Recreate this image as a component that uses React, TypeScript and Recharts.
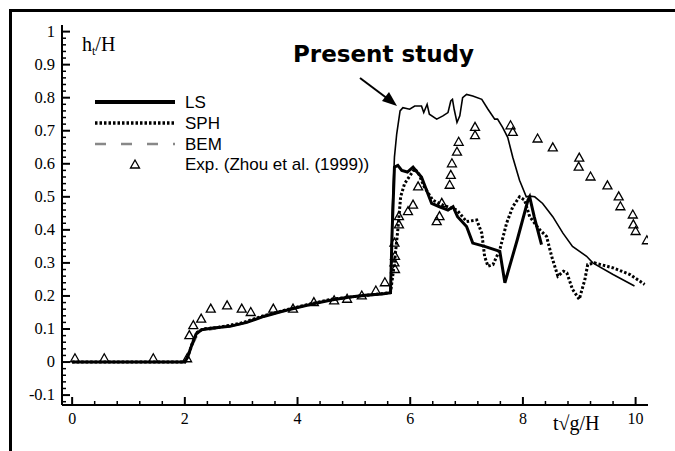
import { ComposedChart, Line, Scatter, XAxis, YAxis, Legend } from 'recharts';

type Pt = { t: number; h: number };
const pts = (a: number[][]): Pt[] => a.map(([t, h]) => ({ t, h }));

// Present study (thin solid)
const PRESENT = pts([
  [0, 0], [1, 0], [2.0, 0], [2.05, 0.015], [2.12, 0.05], [2.2, 0.085], [2.3, 0.098],
  [2.5, 0.103], [2.8, 0.108], [3.1, 0.12], [3.4, 0.138], [3.7, 0.152], [4.0, 0.165],
  [4.3, 0.177], [4.6, 0.188], [4.9, 0.196], [5.2, 0.202], [5.5, 0.206], [5.65, 0.21],
  [5.68, 0.45], [5.72, 0.62], [5.76, 0.69], [5.82, 0.76], [5.87, 0.77], [5.99, 0.765],
  [6.08, 0.775], [6.2, 0.775], [6.24, 0.755], [6.3, 0.78], [6.34, 0.75], [6.47, 0.735],
  [6.58, 0.745], [6.67, 0.755], [6.72, 0.79], [6.75, 0.795], [6.78, 0.765], [6.83, 0.725],
  [6.88, 0.745], [6.93, 0.8], [7.0, 0.81], [7.11, 0.805], [7.27, 0.795], [7.38, 0.765],
  [7.5, 0.735], [7.55, 0.735], [7.64, 0.71], [7.73, 0.68], [7.82, 0.62], [7.94, 0.55],
  [8.06, 0.5], [8.12, 0.502], [8.21, 0.5], [8.35, 0.48], [8.53, 0.44], [8.71, 0.39],
  [8.88, 0.35], [9.13, 0.32], [9.24, 0.3], [9.6, 0.265], [9.98, 0.23],
]);

// LS (thick solid)
const LS = pts([
  [0, 0], [1, 0], [2.0, 0], [2.05, 0.015], [2.12, 0.05], [2.2, 0.085], [2.3, 0.098],
  [2.5, 0.103], [2.8, 0.108], [3.1, 0.12], [3.4, 0.138], [3.7, 0.152], [4.0, 0.165],
  [4.3, 0.177], [4.6, 0.188], [4.9, 0.196], [5.2, 0.202], [5.5, 0.206], [5.65, 0.21],
  [5.68, 0.4], [5.72, 0.59], [5.78, 0.595], [5.85, 0.58], [5.95, 0.575], [6.05, 0.59],
  [6.12, 0.575], [6.2, 0.56], [6.29, 0.52], [6.38, 0.48], [6.52, 0.47], [6.67, 0.46],
  [6.76, 0.47], [6.84, 0.44], [7.0, 0.41], [7.11, 0.36], [7.32, 0.35], [7.59, 0.335],
  [7.68, 0.24], [7.9, 0.37], [8.09, 0.49], [8.12, 0.5], [8.2, 0.44], [8.33, 0.355],
]);

// SPH (dotted)
const SPH = pts([
  [0, 0], [1, 0], [2.0, 0], [2.06, 0.02], [2.14, 0.06], [2.22, 0.09], [2.32, 0.1],
  [2.6, 0.105], [3.0, 0.118], [3.4, 0.14], [3.8, 0.158], [4.2, 0.175], [4.6, 0.19],
  [5.0, 0.198], [5.4, 0.205], [5.65, 0.21], [5.72, 0.3], [5.78, 0.4], [5.83, 0.5],
  [5.9, 0.54], [6.0, 0.565], [6.08, 0.585], [6.15, 0.57], [6.25, 0.53], [6.4, 0.49],
  [6.58, 0.475], [6.83, 0.46], [7.0, 0.425], [7.18, 0.43], [7.27, 0.39], [7.32, 0.32],
  [7.38, 0.29], [7.47, 0.295], [7.59, 0.34], [7.71, 0.42], [7.82, 0.47], [7.94, 0.5],
  [8.03, 0.49], [8.12, 0.44], [8.3, 0.4], [8.42, 0.38], [8.51, 0.32], [8.62, 0.26],
  [8.72, 0.275], [8.78, 0.27], [8.88, 0.22], [9.0, 0.19], [9.1, 0.25], [9.15, 0.295],
  [9.27, 0.3], [9.6, 0.285], [9.9, 0.265], [10.16, 0.235],
]);

// BEM (grey dashed, stops before breaking)
const BEM = pts([
  [0, 0], [1, 0], [2.0, 0], [2.1, 0.04], [2.25, 0.09], [2.5, 0.1], [3.0, 0.115],
  [3.5, 0.145], [4.0, 0.165], [4.5, 0.185], [5.0, 0.197], [5.5, 0.205], [5.65, 0.21],
]);

// Exp. (Zhou et al. 1999)
const EXP = pts([
  [0.05, 0.01], [0.57, 0.01], [1.44, 0.01], [2.04, 0.01], [2.08, 0.08], [2.15, 0.11],
  [2.29, 0.13], [2.46, 0.16], [2.75, 0.17], [3.01, 0.16], [3.17, 0.15], [3.57, 0.16],
  [3.92, 0.16], [4.29, 0.18], [4.65, 0.185], [4.88, 0.19], [5.14, 0.2], [5.39, 0.215],
  [5.55, 0.24], [5.73, 0.28], [5.72, 0.3], [5.73, 0.32], [5.72, 0.36], [5.8, 0.415],
  [5.8, 0.44], [5.96, 0.455], [6.05, 0.475], [6.14, 0.53], [6.47, 0.425], [6.52, 0.44],
  [6.56, 0.48], [6.7, 0.535], [6.72, 0.565], [6.74, 0.6], [6.83, 0.635], [6.86, 0.665],
  [7.15, 0.685], [7.15, 0.71], [7.78, 0.715], [7.82, 0.695], [8.26, 0.675], [8.53, 0.648],
  [9.0, 0.617], [8.99, 0.59], [9.2, 0.56], [9.5, 0.533], [9.7, 0.5], [9.73, 0.47],
  [9.95, 0.445], [9.96, 0.415], [10.0, 0.395], [10.2, 0.367],
]);

const X_MAJOR = [0, 2, 4, 6, 8, 10];
const Y_MAJOR = [-0.1, 0, 0.1, 0.2, 0.3, 0.4, 0.5, 0.6, 0.7, 0.8, 0.9, 1];
const Y_LABELS = ['-0.1', '0', '0.1', '0.2', '0.3', '0.4', '0.5', '0.6', '0.7', '0.8', '0.9', '1'];

// minor ticks: every 0.4 on x, every 0.02 on y
const X_TICKS = Array.from({ length: 26 }, (_, i) => Math.round(i * 4) / 10);
const Y_TICKS = Array.from({ length: 57 }, (_, i) => Math.round((-0.12 + i * 0.02) * 100) / 100);

const SERIF = "'Liberation Serif', 'Times New Roman', serif";
const SANS = "'Liberation Sans', Arial, sans-serif";

const XTick = (props: any) => {
  const { x, y, payload } = props;
  const v = payload.value;
  const major = X_MAJOR.some((m) => Math.abs(m - v) < 1e-6);
  return (
    <g>
      <line x1={x} x2={x} y1={y} y2={y - (major ? 8 : 4)} stroke="#000" strokeWidth={major ? 2 : 1.5} />
      {major && (
        <text x={x} y={y + 19} textAnchor="middle" fontFamily={SERIF} fontSize={16} fill="#000">
          {v}
        </text>
      )}
    </g>
  );
};

const YTick = (props: any) => {
  const { x, y, payload } = props;
  const v = payload.value;
  const idx = Y_MAJOR.findIndex((m) => Math.abs(m - v) < 1e-6);
  const major = idx >= 0;
  return (
    <g>
      <line x1={x} x2={x + (major ? 8 : 4)} y1={y} y2={y} stroke="#000" strokeWidth={major ? 2 : 1.5} />
      {major && (
        <text x={x - 7} y={y + 5} textAnchor="end" fontFamily={SERIF} fontSize={16.5} fill="#000">
          {Y_LABELS[idx]}
        </text>
      )}
    </g>
  );
};

const Triangle = (props: any) => {
  const { cx, cy } = props;
  return (
    <polygon
      points={`${cx},${cy - 5} ${cx - 4.5},${cy + 3} ${cx + 4.5},${cy + 3}`}
      fill="none"
      stroke="#000"
      strokeWidth={1.3}
    />
  );
};

const LegendBox = () => (
  <svg width={300} height={84}>
    <line x1={0} x2={80} y1={10} y2={10} stroke="#000" strokeWidth={4} />
    <line x1={0} x2={80} y1={31} y2={31} stroke="#000" strokeWidth={3.5} strokeDasharray="2.5 2" />
    <line x1={0} x2={80} y1={52} y2={52} stroke="#888" strokeWidth={2.5} strokeDasharray="11 15" />
    <polygon points="40,68 35.5,76 44.5,76" fill="none" stroke="#000" strokeWidth={1.3} />
    <g fontFamily={SANS} fontSize={17} fill="#000">
      <text x={90} y={16}>LS</text>
      <text x={90} y={37}>SPH</text>
      <text x={90} y={58}>BEM</text>
      <text x={90} y={78}>Exp. (Zhou et al. (1999))</text>
    </g>
  </svg>
);

export default function App() {
  return (
    <div style={{ position: 'absolute', left: 0, top: 0, width: 675, height: 451, background: '#fff' }}>
      <ComposedChart width={675} height={451} margin={{ top: 25, right: 27, left: 0, bottom: 0 }}>
        <XAxis
          type="number"
          dataKey="t"
          domain={[-0.18, 10.22]}
          ticks={X_TICKS}
          interval={0}
          tickSize={0}
          tickMargin={0}
          tick={XTick}
          axisLine={{ stroke: '#000', strokeWidth: 2 }}
          height={46}
          allowDataOverflow
        />
        <YAxis
          type="number"
          dataKey="h"
          domain={[-0.13, 1.02]}
          ticks={Y_TICKS}
          interval={0}
          tickSize={0}
          tickMargin={0}
          tick={YTick}
          axisLine={{ stroke: '#000', strokeWidth: 2 }}
          width={62}
          allowDataOverflow
        />
        <Legend
          layout="horizontal"
          verticalAlign="middle"
          align="center"
          content={LegendBox}
          wrapperStyle={{ left: 95, top: 92, width: 300, height: 84 }}
        />
        <Line data={BEM} dataKey="h" type="linear" stroke="#888" strokeWidth={2} strokeDasharray="11 15" dot={false} isAnimationActive={false} />
        <Scatter data={EXP} dataKey="h" shape={Triangle} isAnimationActive={false} />
        <Line data={SPH} dataKey="h" type="linear" stroke="#000" strokeWidth={3} strokeDasharray="2.5 2" dot={false} isAnimationActive={false} />
        <Line data={LS} dataKey="h" type="linear" stroke="#000" strokeWidth={3} dot={false} isAnimationActive={false} />
        <Line data={PRESENT} dataKey="h" type="linear" stroke="#000" strokeWidth={1.6} dot={false} isAnimationActive={false} />
      </ComposedChart>
      <svg width={675} height={451} style={{ position: 'absolute', left: 0, top: 0, pointerEvents: 'none' }}>
        <line x1={10} y1={10.5} x2={675} y2={10.5} stroke="#000" strokeWidth={3} />
        <line x1={10.5} y1={9} x2={10.5} y2={451} stroke="#000" strokeWidth={3} />
        <text x={82} y={51} fontFamily={SERIF} fontSize={20} fill="#000">
          h<tspan fontSize={12} dy={4}>t</tspan>
          <tspan dy={-4}>/H</tspan>
        </text>
        <text x={553} y={430} fontFamily={SERIF} fontSize={20} fill="#000">t√g/H</text>
        <text x={293} y={62} fontFamily="'DejaVu Sans', Verdana, sans-serif" fontWeight="bold" fontSize={23} fill="#000">
          Present study
        </text>
        <line x1={360} y1={78} x2={388} y2={99} stroke="#000" strokeWidth={2} />
        <polygon points="397,106 382,101 389,92" fill="#000" />
      </svg>
    </div>
  );
}
